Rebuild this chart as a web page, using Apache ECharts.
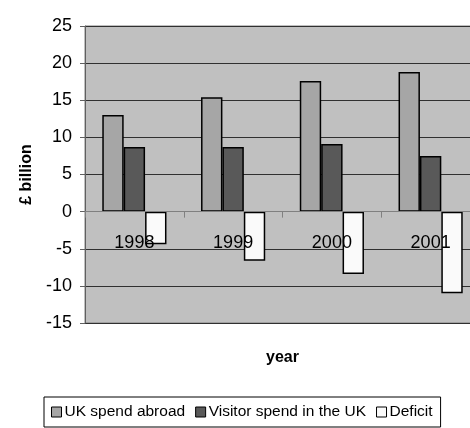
<!DOCTYPE html>
<html>
<head>
<meta charset="utf-8">
<script src="https://cdn.jsdelivr.net/npm/echarts@6/dist/echarts.min.js"></script>
<style>
html,body{margin:0;padding:0;background:#fff;}
#chart{width:470px;height:428px;}
</style>
</head>
<body>
<div id="chart"></div>
<script>
const years = ['1998', '1999', '2000', '2001'];
const ukSpendAbroad = [13.0, 15.4, 17.6, 18.8];
const visitorSpend = [8.7, 8.7, 9.1, 7.5];
const deficit = [-4.4, -6.6, -8.4, -11.0];
const seriesNames = ['UK spend abroad', 'Visitor spend in the UK', 'Deficit'];
const yTicks = {min: -15, max: 25, interval: 5};

const FONT = '"Liberation Sans", Arial, sans-serif';
const chart = echarts.init(document.getElementById('chart'), null, {renderer: 'canvas'});

const GRID = {left: 85, top: 26, width: 395, height: 297};
// distance of the zero line above the plot bottom (category axis sits on zero)
const zeroOffset = -GRID.height * (0 - yTicks.min) / (yTicks.max - yTicks.min);

const barStyle = (color) => ({color: color, borderColor: '#000', borderWidth: 1.5});

chart.setOption({
  animation: false,
  backgroundColor: '#fff',
  textStyle: {fontFamily: FONT, color: '#000'},
  grid: Object.assign({
    show: true, backgroundColor: '#C0C0C0', borderColor: '#808080', borderWidth: 1,
    containLabel: false, outerBoundsMode: 'none'
  }, GRID),
  legend: {
    left: 44, top: 397,
    data: seriesNames,
    icon: 'rect',
    itemWidth: 10, itemHeight: 10, itemGap: 10,
    borderColor: '#000', borderWidth: 1,
    padding: [7, 8, 7, 7],
    textStyle: {fontFamily: FONT, fontSize: 15.5, color: '#000', padding: [0, 0, 0, -2]},
    itemStyle: {borderColor: '#000', borderWidth: 1}
  },
  xAxis: [
    {
      type: 'category',
      data: years,
      z: 5,
      position: 'bottom',
      offset: zeroOffset,
      axisLine: {show: true, onZero: false, lineStyle: {color: '#808080', width: 1}},
      axisTick: {show: true, length: 6, inside: false, lineStyle: {color: '#808080'}},
      axisLabel: {fontFamily: FONT, fontSize: 18, color: '#000', margin: 22},
      splitLine: {show: false}
    },
    {
      type: 'category',
      data: years,
      position: 'bottom',
      name: 'year',
      nameLocation: 'middle',
      nameGap: 27,
      nameTextStyle: {fontFamily: FONT, fontSize: 16, fontWeight: 'bold', color: '#000'},
      axisLine: {show: false},
      axisTick: {show: false},
      axisLabel: {show: false},
      splitLine: {show: false}
    }
  ],
  yAxis: {
    type: 'value',
    min: yTicks.min, max: yTicks.max, interval: yTicks.interval,
    name: '£ billion',
    nameLocation: 'middle',
    nameGap: 49,
    nameRotate: 90,
    nameTextStyle: {fontFamily: FONT, fontSize: 16, fontWeight: 'bold', color: '#000'},
    axisLine: {show: true, lineStyle: {color: '#606060', width: 1}},
    axisTick: {show: true, length: 5, lineStyle: {color: '#606060'}},
    axisLabel: {fontFamily: FONT, fontSize: 18, color: '#000', margin: 13},
    splitLine: {show: true, lineStyle: {color: '#303030', width: 1}}
  },
  series: [
    {name: seriesNames[0], type: 'bar', data: ukSpendAbroad, itemStyle: barStyle('#A6A6A6'), barGap: '0%', barCategoryGap: '35%'},
    {name: seriesNames[1], type: 'bar', data: visitorSpend, itemStyle: barStyle('#595959'), barGap: '0%', barCategoryGap: '35%'},
    {name: seriesNames[2], type: 'bar', data: deficit, itemStyle: barStyle('#FAFAFA'), barGap: '0%', barCategoryGap: '35%'}
  ]
});
</script>
</body>
</html>
